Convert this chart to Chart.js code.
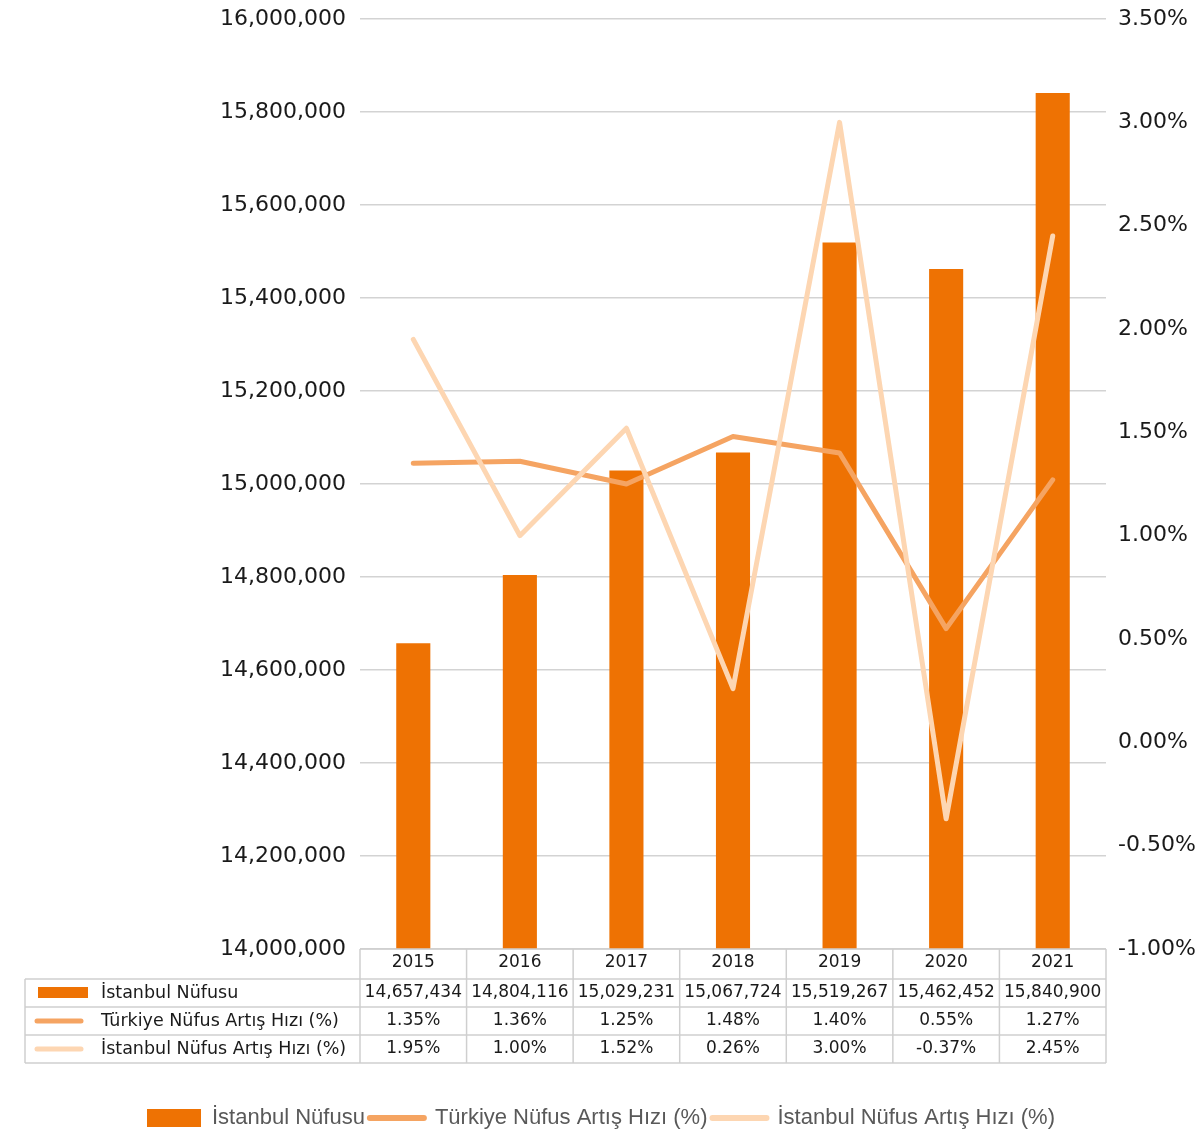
<!DOCTYPE html>
<html>
<head>
<meta charset="utf-8">
<script src="https://cdn.jsdelivr.net/npm/chart.js@4/dist/chart.umd.min.js"></script>
<style>
  html, body { margin: 0; padding: 0; background: #fff; }
  #wrap { width: 1202px; height: 1134px; position: relative; }
</style>
</head>
<body>
<div id="wrap"><canvas id="popChart"></canvas></div>
<script>
const years = ['2015', '2016', '2017', '2018', '2019', '2020', '2021'];
const istanbulPop = [14657434, 14804116, 15029231, 15067724, 15519267, 15462452, 15840900];
const turkiyeRate = [1.35, 1.36, 1.25, 1.48, 1.40, 0.55, 1.27];
const istanbulRate = [1.95, 1.00, 1.52, 0.26, 3.00, -0.37, 2.45];

const C_BAR = '#ee7203';
const C_TR = '#f5a462';
const C_IST = '#fdd6b2';
const TXT = '#1a1a1a';
const GRID = '#d3d3d3';
const FONT = "'DejaVu Sans', sans-serif";

const fmtPop = v => v.toLocaleString('en-US');
const fmtPct = v => v.toFixed(2) + '%';

// data table under the x axis, aligned to the category scale
const dataTable = {
    id: 'dataTable',
    afterDraw(chart) {
        const ctx = chart.ctx;
        const x = chart.scales.x;
        const top = chart.chartArea.bottom;
        const headH = 30, rowH = 28, leftEdge = 25;
        const cw = x.width / years.length;
        const rows = [
            { label: 'İstanbul Nüfusu', values: istanbulPop.map(fmtPop), color: C_BAR, kind: 'bar' },
            { label: 'Türkiye Nüfus Artış Hızı (%)', values: turkiyeRate.map(fmtPct), color: C_TR, kind: 'line' },
            { label: 'İstanbul Nüfus Artış Hızı (%)', values: istanbulRate.map(fmtPct), color: C_IST, kind: 'line' }
        ];
        const bottom = top + headH + rowH * rows.length;

        ctx.save();
        ctx.strokeStyle = '#cfcfcf';
        ctx.lineWidth = 1.5;
        ctx.beginPath();
        // header row top and verticals
        ctx.moveTo(x.left, top); ctx.lineTo(x.right, top);
        for (let i = 0; i <= years.length; i++) {
            const px = x.left + cw * i;
            ctx.moveTo(px, top); ctx.lineTo(px, bottom);
        }
        // data rows
        for (let r = 0; r <= rows.length; r++) {
            const py = top + headH + rowH * r;
            ctx.moveTo(leftEdge, py); ctx.lineTo(x.right, py);
        }
        ctx.moveTo(leftEdge, top + headH); ctx.lineTo(leftEdge, bottom);
        ctx.stroke();

        ctx.textBaseline = 'middle';
        rows.forEach((row, r) => {
            const cy = top + headH + rowH * r + rowH / 2;
            // swatch
            if (row.kind === 'bar') {
                ctx.fillStyle = row.color;
                ctx.fillRect(38, cy - 6, 50, 11);
            } else {
                ctx.strokeStyle = row.color;
                ctx.lineWidth = 5;
                ctx.lineCap = 'round';
                ctx.beginPath();
                ctx.moveTo(37, cy); ctx.lineTo(81, cy);
                ctx.stroke();
            }
            ctx.fillStyle = TXT;
            ctx.font = "17.5px " + FONT;
            ctx.textAlign = 'left';
            ctx.fillText(row.label, 101, cy);
            ctx.font = "17px " + FONT;
            ctx.textAlign = 'center';
            row.values.forEach((v, i) => {
                ctx.fillText(v, x.getPixelForValue(i), cy);
            });
        });
        ctx.restore();
    }
};

new Chart(document.getElementById('popChart'), {
    data: {
        labels: years,
        datasets: [
            {
                type: 'bar',
                label: 'İstanbul Nüfusu',
                data: istanbulPop,
                backgroundColor: C_BAR,
                borderColor: C_BAR,
                yAxisID: 'y',
                barPercentage: 0.32,
                categoryPercentage: 1,
                order: 3
            },
            {
                type: 'line',
                label: 'Türkiye Nüfus Artış Hızı (%)',
                data: turkiyeRate,
                borderColor: C_TR,
                backgroundColor: C_TR,
                borderWidth: 5,
                pointRadius: 0,
                tension: 0,
                borderJoinStyle: 'round',
                borderCapStyle: 'round',
                yAxisID: 'y1',
                order: 2
            },
            {
                type: 'line',
                label: 'İstanbul Nüfus Artış Hızı (%)',
                data: istanbulRate,
                borderColor: C_IST,
                backgroundColor: C_IST,
                borderWidth: 5,
                pointRadius: 0,
                tension: 0,
                borderJoinStyle: 'round',
                borderCapStyle: 'round',
                yAxisID: 'y1',
                order: 1
            }
        ]
    },
    options: {
        responsive: true,
        maintainAspectRatio: false,
        animation: false,
        layout: { padding: { top: 19, bottom: -5, left: 0, right: 0 } },
        scales: {
            x: {
                offset: true,
                grid: { display: false, drawTicks: false },
                border: { display: false },
                ticks: { color: TXT, font: { family: FONT, size: 17 }, padding: 3 },
                afterFit(scale) { scale.height = 153; }
            },
            y: {
                position: 'left',
                min: 14000000,
                max: 16000000,
                ticks: {
                    stepSize: 200000,
                    color: TXT,
                    font: { family: FONT, size: 22, lineHeight: 1 },
                    padding: 2,
                    callback: v => fmtPop(v)
                },
                grid: { color: GRID, lineWidth: 1.5, drawTicks: true, tickLength: 12, tickColor: 'rgba(0,0,0,0)' },
                border: { display: false },
                afterFit(scale) { scale.width = 360; }
            },
            y1: {
                position: 'right',
                min: -1,
                max: 3.5,
                ticks: {
                    stepSize: 0.5,
                    color: TXT,
                    font: { family: FONT, size: 22, lineHeight: 1 },
                    padding: 2,
                    callback: v => fmtPct(v)
                },
                grid: { display: false, drawTicks: true, tickLength: 10 },
                border: { display: false },
                afterFit(scale) { scale.width = 96; }
            }
        },
        plugins: {
            tooltip: { enabled: false },
            legend: {
                position: 'bottom',
                labels: {
                    usePointStyle: true,
                    pointStyleWidth: 54,
                    boxHeight: 18,
                    padding: 5,
                    color: '#595959',
                    font: { family: "'Liberation Sans Narrow', 'Liberation Sans', sans-serif", size: 22 },
                    generateLabels(chart) {
                        return chart.data.datasets.map((ds, i) => ({
                            text: ds.label,
                            datasetIndex: i,
                            fillStyle: ds.backgroundColor,
                            strokeStyle: ds.borderColor,
                            lineWidth: ds.type === 'line' ? 6 : 0,
                            lineCap: 'round',
                            pointStyle: ds.type === 'line' ? 'line' : 'rect',
                            fontColor: '#595959',
                            hidden: false
                        }));
                    }
                }
            }
        }
    },
    plugins: [dataTable]
});
</script>
</body>
</html>
